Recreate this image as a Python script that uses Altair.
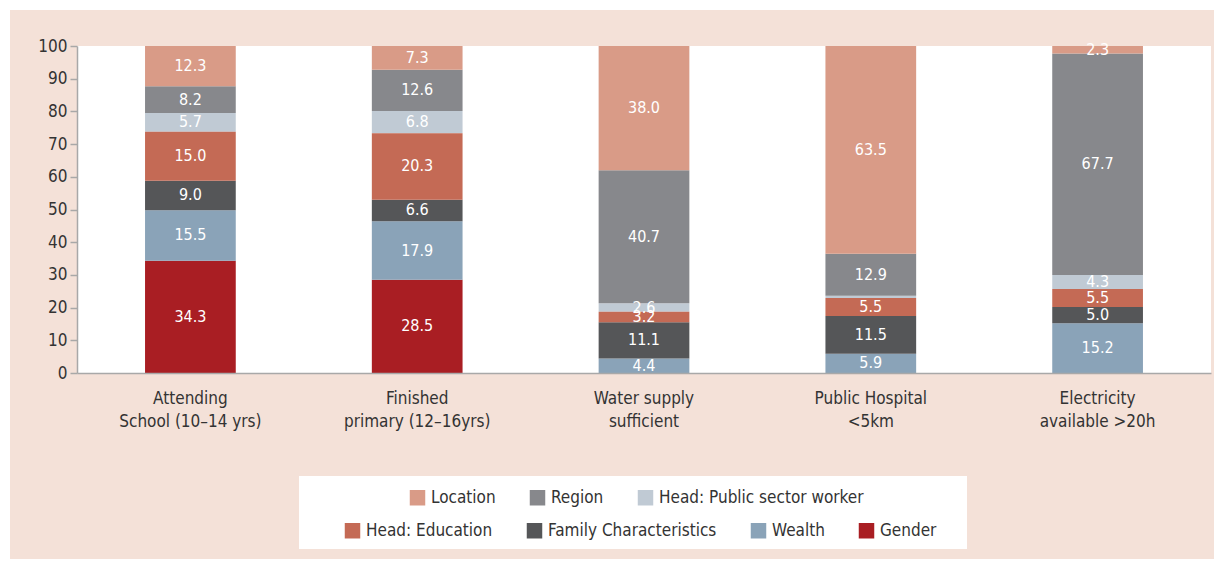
import altair as alt
import pandas as pd

categories = [
    "Attending\nSchool (10–14 yrs)",
    "Finished\nprimary (12–16yrs)",
    "Water supply\nsufficient",
    "Public Hospital\n<5km",
    "Electricity\navailable >20h",
]
factors = [
    "Gender",
    "Wealth",
    "Family Characteristics",
    "Head: Education",
    "Head: Public sector worker",
    "Region",
    "Location",
]
gender = [34.3, 28.5, 0.0, 0.0, 0.0]
wealth = [15.5, 17.9, 4.4, 5.9, 15.2]
family = [9.0, 6.6, 11.1, 11.5, 5.0]
education = [15.0, 20.3, 3.2, 5.5, 5.5]
public = [5.7, 6.8, 2.6, 0.7, 4.3]
region = [8.2, 12.6, 40.7, 12.9, 67.7]
location = [12.3, 7.3, 38.0, 63.5, 2.3]
series = [gender, wealth, family, education, public, region, location]

group_a = ["Location", "Region", "Head: Public sector worker"]
colors_a = ["#d99b87", "#87888c", "#c0cad4"]
group_b = ["Head: Education", "Family Characteristics", "Wealth", "Gender"]
colors_b = ["#c46a55", "#555658", "#8aa3b8", "#a91e23"]

rows = []
for i, c in enumerate(categories):
    for j, (f, vals) in enumerate(zip(factors, series)):
        rows.append({"cat": c, "factor": f, "ord": j, "value": vals[i]})
df = pd.DataFrame(rows)

FONT = "DejaVu Sans Condensed, Roboto, sans-serif"
W, H = 1134, 327
PINK = "#f4e1d8"

base = alt.Chart(df).transform_stack(
    as_=["y0", "y1"], stack="value", groupby=["cat"],
    sort=[alt.SortField("ord", order="ascending")],
)

x = alt.X(
    "cat:N", sort=categories, title=None,
    scale=alt.Scale(paddingInner=0.6, paddingOuter=0.3),
    axis=alt.Axis(
        labelExpr="split(datum.label, '\\n')", labelAngle=0, ticks=False,
        labelFont=FONT, labelFontSize=17, labelColor="#333333",
        labelLineHeight=23, labelPadding=17, domainColor="#a8a8a8",
        domainWidth=1.5, zindex=1,
    ),
)
yscale = alt.Scale(domain=[0, 100], nice=False)
yaxis = alt.Axis(
    values=list(range(0, 101, 10)), grid=False, labelFont=FONT,
    labelFontSize=17, labelColor="#333333", labelPadding=3, tickSize=7,
    tickColor="#a8a8a8", domainColor="#a8a8a8", domainWidth=1.5, tickWidth=1.5,
    zindex=1,
)
y = alt.Y("y0:Q", scale=yscale, axis=yaxis, title=None)
y2 = alt.Y2("y1:Q")


def legend(cols, ly):
    return alt.Legend(
        title=None, orient="none", legendX=cols, legendY=ly,
        direction="horizontal", symbolType="square", symbolSize=240,
        symbolStrokeWidth=0, symbolOpacity=1, labelFont=FONT,
        labelFontSize=17, labelColor="#333333", labelOffset=5,
        labelLimit=400, columnPadding=33, padding=0, zindex=1,
    )


bars_a = base.transform_filter(
    alt.FieldOneOfPredicate(field="factor", oneOf=group_a)
).mark_bar().encode(
    x=x, y=y, y2=y2,
    color=alt.Color("factor:N", scale=alt.Scale(domain=group_a, range=colors_a),
                    legend=legend(332, 443)),
)
bars_b = base.transform_filter(
    alt.FieldOneOfPredicate(field="factor", oneOf=group_b)
).mark_bar().encode(
    x=x, y=y, y2=y2,
    color=alt.Color("factor:N", scale=alt.Scale(domain=group_b, range=colors_b),
                    legend=legend(267, 476)),
)

labels = base.transform_filter(alt.datum.value >= 1).transform_calculate(
    mid="(datum.y0 + datum.y1) / 2"
).mark_text(color="white", fontSize=16, font=FONT, baseline="middle").encode(
    x=x,
    y=alt.Y("mid:Q", scale=yscale, axis=yaxis, title=None),
    text=alt.Text("value:Q", format=".1f"),
)

one = pd.DataFrame({"k": [0]})
bg = alt.Chart(one).mark_rect(color=PINK).encode(
    x=alt.value(-67), x2=alt.value(W + 3), y=alt.value(-36), y2=alt.value(H + 186)
)
plotbg = alt.Chart(one).mark_rect(color="white").encode(
    x=alt.value(0), x2=alt.value(W), y=alt.value(0), y2=alt.value(H)
)
legbox = alt.Chart(one).mark_rect(color="white").encode(
    x=alt.value(222), x2=alt.value(890), y=alt.value(430), y2=alt.value(503)
)

chart = alt.layer(bg, plotbg, legbox, bars_a, bars_b, labels).resolve_scale(
    color="independent"
).properties(
    width=W, height=H,
    padding={"left": 69, "top": 38, "right": 3, "bottom": 186},
    autosize=alt.AutoSizeParams(type="none"),
    background="white",
).configure_view(strokeWidth=0)

chart.save("out.html", embed_options={"renderer": "svg", "actions": False})
